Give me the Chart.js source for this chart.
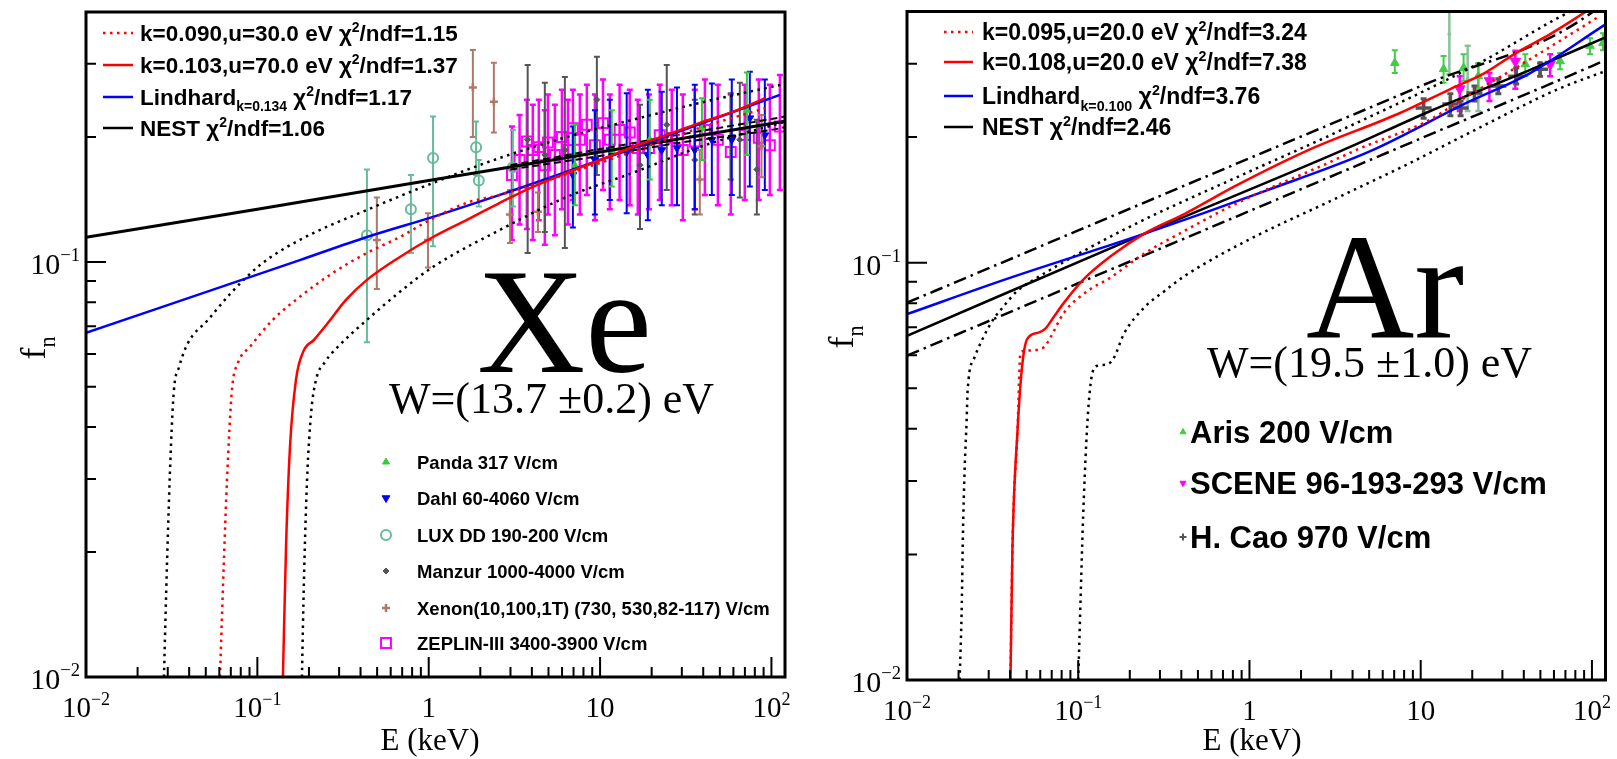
<!DOCTYPE html>
<html>
<head>
<meta charset="utf-8">
<script src="https://cdn.jsdelivr.net/npm/chart.js@4.4.1/dist/chart.umd.min.js"></script>
<style>
html, body { margin: 0; padding: 0; background: #fff; overflow: hidden; }
#wrap { position: relative; width: 1617px; height: 759px; }
canvas { position: absolute; top: 0; }
</style>
</head>
<body>
<div id="wrap">
  <canvas id="xe" width="800" height="759" style="left:0"></canvas>
  <canvas id="ar" width="817" height="759" style="left:800px"></canvas>
</div>
<script>
// ---------- axes ----------
const xTickVals = [0.01, 0.1, 1, 10, 100];
const xTickText = [['10', '−2'], ['10', '−1'], ['1', ''], ['10', ''], ['10', '2']];
const yTickVals = [0.01, 0.1];
const yTickText = [['10', '−2'], ['10', '−1']];

// ---------- Xe panel: model curves (E keV, f_n) ----------
const xeE_k090 = [0.0605, 0.0638, 0.0665, 0.0711, 0.0771, 0.0905, 0.123, 0.177, 0.276, 0.436, 0.679, 1.02, 1.67, 2.60, 10.0, 38.2, 98.0];
const xeF_k090 = [0.0100, 0.0191, 0.0298, 0.0492, 0.0571, 0.0624, 0.0725, 0.0824, 0.0941, 0.1051, 0.1148, 0.1263, 0.1388, 0.1450, 0.1732, 0.2104, 0.2363];
const xeE_k103 = [0.141, 0.147, 0.155, 0.168, 0.185, 0.214, 0.258, 0.329, 0.436, 0.679, 1.06, 1.67, 2.60, 4.05, 6.40, 10.0, 15.5, 24.5, 38.2, 59.5, 92.0];
const xeF_k103 = [0.0100, 0.0206, 0.0358, 0.0520, 0.0607, 0.0649, 0.0713, 0.0810, 0.0905, 0.1028, 0.1148, 0.1263, 0.1388, 0.1516, 0.1639, 0.1760, 0.1892, 0.2023, 0.2163, 0.2298, 0.2480];
const xeE_lind = [0.010, 0.177, 0.436, 1.06, 2.60, 10.0, 112];
const xeF_lind = [0.0675, 0.101, 0.1148, 0.1284, 0.145, 0.176, 0.2525];
const xeE_nest = [0.010, 0.10, 1.0, 10, 100, 120];
const xeF_nest = [0.1146, 0.134, 0.157, 0.184, 0.2154, 0.2184];
const xeE_nestBand = [3.0, 10, 30, 100, 120];
const xeF_nestHi = [0.171, 0.187, 0.203, 0.221, 0.224];
const xeF_nestLo = [0.167, 0.180, 0.194, 0.208, 0.211];
const xeE_dotL = [0.0285, 0.0297, 0.0313, 0.0326, 0.0349, 0.0394, 0.0515, 0.0702, 0.104, 0.177, 0.436, 1.06, 2.60, 6.40, 15.5, 38.2, 94.0, 120];
const xeF_dotL = [0.0100, 0.0188, 0.0358, 0.0492, 0.0558, 0.0638, 0.0725, 0.0842, 0.0984, 0.1130, 0.1334, 0.1550, 0.1780, 0.2000, 0.2200, 0.2416, 0.2626, 0.2685];
const xeE_dotR = [0.182, 0.187, 0.195, 0.206, 0.220, 0.248, 0.303, 0.436, 0.679, 1.06, 2.60, 6.40, 15.5, 38.2, 94.0, 120];
const xeF_dotR = [0.0100, 0.0171, 0.0298, 0.0433, 0.0520, 0.0574, 0.0631, 0.0725, 0.0847, 0.0973, 0.1194, 0.1434, 0.1639, 0.1892, 0.2115, 0.2175];

// ---------- Xe panel: measurements ----------
const pandaE = [7.13, 11.7, 19.5, 39.3, 71.9];
const pandaF = [0.171, 0.186, 0.197, 0.210, 0.232];
const pandaHi = [0.214, 0.232, 0.246, 0.248, 0.286];
const pandaLo = [0.137, 0.152, 0.158, 0.176, 0.181];

const dahlE = [6.94, 9.33, 11.4, 14.3, 19.0, 22.9, 28.1, 35.7, 44.9, 58.7, 74.8, 91.5];
const dahlF = [0.162, 0.176, 0.186, 0.184, 0.181, 0.186, 0.188, 0.186, 0.197, 0.197, 0.222, 0.202];
const dahlHi = [0.212, 0.232, 0.246, 0.255, 0.260, 0.257, 0.263, 0.267, 0.269, 0.275, 0.287, 0.275];
const dahlLo = [0.121, 0.130, 0.141, 0.131, 0.126, 0.137, 0.137, 0.134, 0.145, 0.145, 0.152, 0.149];

const luxE = [0.436, 0.787, 1.06, 1.89, 1.96, 3.10];
const luxF = [0.116, 0.134, 0.178, 0.189, 0.157, 0.169];
const luxHi = [0.167, 0.162, 0.224, 0.218, 0.176, 0.208];
const luxLo = [0.064, 0.105, 0.109, 0.162, 0.136, 0.136];

const manzurE = [3.78, 4.76, 6.23, 9.58, 17.1, 24.5, 35.7, 57.9, 65.4, 82.2];
const manzurF = [0.197, 0.181, 0.186, 0.246, 0.171, 0.214, 0.176, 0.200, 0.197, 0.167];
const manzurHi = [0.298, 0.270, 0.279, 0.312, 0.239, 0.298, 0.246, 0.255, 0.270, 0.220];
const manzurLo = [0.105, 0.118, 0.108, 0.162, 0.120, 0.149, 0.130, 0.158, 0.143, 0.130];

const xenonE = [0.498, 0.99, 1.81, 2.40, 2.98, 4.34, 38.2, 87.5];
const xenonF = [0.113, 0.113, 0.263, 0.243, 0.130, 0.132, 0.158, 0.190];
const xenonHi = [0.143, 0.131, 0.324, 0.302, 0.149, 0.147, 0.186, 0.226];
const xenonLo = [0.086, 0.097, 0.200, 0.205, 0.111, 0.118, 0.130, 0.160];

const zeplinE = [3.06, 3.39, 3.74, 4.05, 4.39, 4.76, 4.96, 5.45, 5.99, 6.49, 6.94, 7.62, 8.37, 9.33, 10.4, 11.4, 13.0, 14.9, 16.6, 19.3, 22.3, 26.2, 30.4, 35.7, 40.9, 48.7, 57.9, 69.9, 84.4, 97.9, 112];
const zeplinF = [0.162, 0.176, 0.195, 0.186, 0.189, 0.171, 0.194, 0.181, 0.200, 0.186, 0.210, 0.197, 0.214, 0.191, 0.216, 0.197, 0.208, 0.205, 0.188, 0.188, 0.202, 0.199, 0.186, 0.195, 0.208, 0.197, 0.184, 0.202, 0.199, 0.191, 0.212];
const zeplinHi = [0.212, 0.226, 0.246, 0.239, 0.246, 0.232, 0.253, 0.239, 0.260, 0.246, 0.260, 0.253, 0.267, 0.253, 0.275, 0.253, 0.267, 0.260, 0.246, 0.253, 0.267, 0.260, 0.253, 0.260, 0.275, 0.267, 0.253, 0.267, 0.275, 0.267, 0.282];
const zeplinLo = [0.113, 0.123, 0.120, 0.113, 0.126, 0.110, 0.130, 0.116, 0.134, 0.123, 0.141, 0.130, 0.145, 0.126, 0.149, 0.134, 0.141, 0.137, 0.130, 0.134, 0.141, 0.137, 0.126, 0.134, 0.145, 0.137, 0.130, 0.141, 0.141, 0.145, 0.149];

// ---------- Ar panel: model curves ----------
const arE_k095 = [0.0402, 0.0413, 0.0442, 0.046, 0.0505, 0.0626, 0.0688, 0.0818, 0.114, 0.151, 0.242, 0.419, 0.829, 2.80, 4.48, 11.0, 18.0, 43.6, 111];
const arF_k095 = [0.0100, 0.0208, 0.0396, 0.0609, 0.0616, 0.0626, 0.0662, 0.0755, 0.0857, 0.0916, 0.1051, 0.1193, 0.1384, 0.1725, 0.1884, 0.2188, 0.2481, 0.3076, 0.3900];
const arE_k108 = [0.0402, 0.0413, 0.0442, 0.0472, 0.0505, 0.0586, 0.0643, 0.0716, 0.0818, 0.107, 0.162, 0.242, 0.419, 0.829, 2.29, 7.35, 14.9, 23.6, 35.2, 57.0, 93.5];
const arF_k108 = [0.0100, 0.0208, 0.0396, 0.0573, 0.0658, 0.0680, 0.0695, 0.0739, 0.0798, 0.0911, 0.1051, 0.1173, 0.1310, 0.1528, 0.1874, 0.2272, 0.2608, 0.2848, 0.3162, 0.3530, 0.4010];
const arE_lind = [0.010, 0.0387, 0.242, 1.24, 5.12, 18.0, 43.6, 111, 118];
const arF_lind = [0.0753, 0.0916, 0.1173, 0.1487, 0.1853, 0.2401, 0.2848, 0.3649, 0.371];
const arE_nest = [0.010, 0.242, 3.43, 11.4, 43.6, 118];
const arF_nest = [0.0668, 0.1173, 0.1853, 0.2310, 0.2900, 0.3460];
const arE_band = [0.01, 0.1, 1, 10, 100, 120];
const arF_bandHi = [0.0802, 0.1195, 0.178, 0.265, 0.398, 0.43];
const arF_bandLo = [0.0599, 0.0893, 0.133, 0.1985, 0.296, 0.306];
const arE_dotL = [0.0203, 0.0209, 0.0212, 0.0217, 0.0223, 0.0226, 0.0248, 0.0277, 0.0316, 0.0361, 0.0442, 0.054, 0.185, 0.987, 2.80, 21.7, 62.6, 120];
const arF_dotL = [0.0100, 0.0153, 0.0220, 0.0318, 0.0419, 0.0494, 0.0593, 0.0658, 0.0727, 0.0780, 0.0857, 0.0906, 0.1200, 0.1650, 0.2000, 0.3000, 0.3850, 0.4400];
const arE_dotR = [0.100, 0.1013, 0.107, 0.114, 0.122, 0.131, 0.151, 0.162, 0.185, 0.242, 0.321, 0.419, 1.01, 2.80, 7.86, 21.7, 62.6, 120];
const arF_dotR = [0.0100, 0.0120, 0.0251, 0.0435, 0.0551, 0.0567, 0.0573, 0.0593, 0.0676, 0.0780, 0.0857, 0.0930, 0.1140, 0.1390, 0.1700, 0.2100, 0.2600, 0.2880];

// ---------- Ar panel: measurements ----------
const arisE = [7.06, 13.6, 17.8, 21.7, 40.8, 65.2, 97.4, 116];
const arisF = [0.301, 0.291, 0.293, 0.280, 0.299, 0.304, 0.331, 0.336];
const arisHi = [0.323, 0.313, 0.316, 0.301, 0.316, 0.318, 0.345, 0.355];
const arisLo = [0.285, 0.270, 0.273, 0.261, 0.280, 0.291, 0.316, 0.323];
const arisBE = [14.7, 18.8, 21.7];
const arisBF = [0.353, 0.276, 0.264];
const arisBHi = [0.42, 0.331, 0.299];
const arisBLo = [0.283, 0.231, 0.231];
const sceneE = [16.9, 25.2, 35.7, 57.0];
const sceneF = [0.261, 0.273, 0.304, 0.299];
const sceneHi = [0.280, 0.285, 0.322, 0.316];
const sceneLo = [0.231, 0.244, 0.261, 0.280];
const caoE = [10.4, 14.9, 17.1, 20.6, 28.4, 36.1, 49.8];
const caoF = [0.235, 0.240, 0.235, 0.255, 0.265, 0.280, 0.291];
const caoHi = [0.247, 0.254, 0.244, 0.265, 0.276, 0.293, 0.301];
const caoLo = [0.222, 0.225, 0.225, 0.244, 0.254, 0.268, 0.280];

// ---------- labels ----------
const xeModelLabels = ['k=0.090,u=30.0 eV', 'k=0.103,u=70.0 eV', 'Lindhard', 'NEST'];
const xeModelChi2 = ['1.15', '1.37', '1.17', '1.06'];
const xeLindSub = 'k=0.134';
const arModelLabels = ['k=0.095,u=20.0 eV', 'k=0.108,u=20.0 eV', 'Lindhard', 'NEST'];
const arModelChi2 = ['3.24', '7.38', '3.76', '2.46'];
const arLindSub = 'k=0.100';
const xeDataLabels = ['Panda 317 V/cm', 'Dahl 60-4060 V/cm', 'LUX DD 190-200 V/cm', 'Manzur 1000-4000 V/cm',
  'Xenon(10,100,1T) (730, 530,82-117) V/cm', 'ZEPLIN-III 3400-3900 V/cm'];
const arDataLabels = ['Aris 200 V/cm', 'SCENE 96-193-293 V/cm', 'H. Cao 970 V/cm'];

const SERIF = '"Liberation Serif", "Times New Roman", serif';
const SANS = '"Liberation Sans", Arial, sans-serif';
const DOT = [2.5, 4.5];

// marker styles
const mPanda = { style: 'triangle', r: 4, color: '#33cc33' };
const mDahl = { style: 'triangle', rot: 180, r: 4.5, color: '#0000ff' };
const mLux = { style: 'circle', r: 5, color: '#66bb99', open: true, lw: 2 };
const mManzur = { style: 'rectRot', r: 3, color: '#555555' };
const mXenon = { style: 'cross', r: 4, color: '#b07868', lw: 2.5 };
const mZeplin = { style: 'rect', r: 7, color: '#ff00ff', open: true, lw: 2, bw: 2.5 };
const mAris = { style: 'triangle', r: 5, color: '#44cc44' };
const mArisB = { style: 'circle', r: 1.5, color: '#88c0a0', bw: 2.5 };
const mScene = { style: 'triangle', rot: 180, r: 6, color: '#ff00ff', bw: 2.5 };
const mCao = { style: 'cross', r: 8, color: '#555555', lw: 3.5, bw: 3 };

function series(xs, ys) { return xs.map((v, i) => ({ x: v, y: ys[i] })); }

function curve(xs, ys, color, dash, width) {
  return {
    data: series(xs, ys), showLine: true, borderColor: color, backgroundColor: color,
    borderWidth: width || 2.5, borderDash: dash || [], pointRadius: 0, pointHoverRadius: 0,
    cubicInterpolationMode: 'monotone'
  };
}

function points(xs, ys, lo, hi, m) {
  return {
    data: series(xs, ys), showLine: false, errLo: lo, errHi: hi,
    pointStyle: m.style, rotation: m.rot || 0, pointRadius: m.r, pointHoverRadius: m.r,
    borderColor: m.color, backgroundColor: m.open ? 'rgba(0,0,0,0)' : m.color,
    borderWidth: m.lw || 1, barWidth: m.bw || 2
  };
}

// vertical error bars, drawn through the chart's own scales
const errorBars = {
  id: 'errorBars',
  beforeDatasetDraw(chart, args) {
    const ds = chart.data.datasets[args.index];
    if (!ds.errLo) return;
    const { ctx, chartArea: a, scales: { x, y } } = chart;
    ctx.save();
    ctx.beginPath();
    ctx.rect(a.left, a.top, a.right - a.left, a.bottom - a.top);
    ctx.clip();
    ctx.strokeStyle = ds.borderColor;
    ctx.lineWidth = ds.barWidth;
    ds.data.forEach((p, i) => {
      const px = x.getPixelForValue(p.x);
      const y1 = y.getPixelForValue(ds.errHi[i]);
      const y2 = y.getPixelForValue(ds.errLo[i]);
      ctx.beginPath();
      ctx.moveTo(px, y1); ctx.lineTo(px, y2);
      ctx.moveTo(px - 3, y1); ctx.lineTo(px + 3, y1);
      ctx.moveTo(px - 3, y2); ctx.lineTo(px + 3, y2);
      ctx.stroke();
    });
    ctx.restore();
  }
};

function richWidth(ctx, parts, size, weight, family) {
  let w = 0;
  for (const [t, kind] of parts) {
    ctx.font = `${weight} ${kind ? size * 0.62 : size}px ${family}`;
    w += ctx.measureText(t).width;
  }
  return w;
}

function drawRich(ctx, x, base, parts, size, weight, family) {
  for (const [t, kind] of parts) {
    ctx.font = `${weight} ${kind ? size * 0.62 : size}px ${family}`;
    const dy = kind === 'sup' ? -size * 0.42 : kind === 'sub' ? size * 0.28 : 0;
    ctx.fillText(t, x, base + dy);
    x += ctx.measureText(t).width;
  }
  return x;
}

function drawMarker(ctx, m, x, y) {
  ctx.save();
  ctx.fillStyle = m.open ? 'rgba(0,0,0,0)' : m.color;
  ctx.strokeStyle = m.color;
  ctx.lineWidth = m.lw || 1;
  Chart.helpers.drawPoint(ctx, { pointStyle: m.style, rotation: m.rot || 0, radius: m.r, borderWidth: m.lw || 1 }, x, y);
  ctx.restore();
}

function modelParts(labels, chi2, sub, i) {
  const parts = [[labels[i]]];
  if (i === 2) parts.push([sub, 'sub']);
  parts.push([' χ'], ['2', 'sup'], ['/ndf=' + chi2[i]]);
  return parts;
}

// frame, ticks, tick labels, titles, legends in ROOT style
function rootFrame(cfg) {
  return {
    id: 'rootFrame',
    afterDraw(chart) {
      const { ctx, chartArea: a, scales: { x, y } } = chart;
      ctx.save();
      ctx.strokeStyle = '#000';
      ctx.fillStyle = '#000';
      ctx.lineWidth = 2;
      ctx.beginPath();
      for (let d = -2; d <= 2; d++) {
        for (let m = 1; m <= 9; m++) {
          const v = m * Math.pow(10, d);
          if (v < x.min || v > x.max) continue;
          const px = x.getPixelForValue(v);
          ctx.moveTo(px, a.bottom); ctx.lineTo(px, a.bottom - (m === 1 ? 20 : 10));
        }
      }
      for (let d = -2; d <= -1; d++) {
        for (let m = 1; m <= 9; m++) {
          const v = m * Math.pow(10, d);
          if (v < y.min || v >= y.max) continue;
          const py = y.getPixelForValue(v);
          ctx.moveTo(a.left, py); ctx.lineTo(a.left + (m === 1 ? 20 : 10), py);
        }
      }
      ctx.stroke();
      ctx.lineWidth = 3;
      ctx.strokeRect(a.left, a.top, a.right - a.left, a.bottom - a.top);

      // tick labels
      xTickVals.forEach((v, i) => {
        const parts = [[xTickText[i][0]]];
        if (xTickText[i][1]) parts.push([xTickText[i][1], 'sup']);
        const w = richWidth(ctx, parts, 29, 'normal', SERIF);
        drawRich(ctx, x.getPixelForValue(v) - w / 2, a.bottom + 40, parts, 29, 'normal', SERIF);
      });
      yTickVals.forEach((v, i) => {
        const parts = [[yTickText[i][0]], [yTickText[i][1], 'sup']];
        const w = richWidth(ctx, parts, 30, 'normal', SERIF);
        drawRich(ctx, a.left - 6 - w, y.getPixelForValue(v) + 12, parts, 30, 'normal', SERIF);
      });

      // axis titles
      ctx.font = `31px ${SERIF}`;
      ctx.textAlign = 'center';
      ctx.fillText('E (keV)', cfg.titleX, 750);
      ctx.textAlign = 'left';
      ctx.save();
      ctx.translate(cfg.fn[0], cfg.fn[1]);
      ctx.rotate(-Math.PI / 2);
      const fparts = [['f'], ['n', 'sub']];
      const fw = richWidth(ctx, fparts, 36, 'normal', SERIF);
      drawRich(ctx, -fw / 2, 10, fparts, 36, 'normal', SERIF);
      ctx.restore();

      // big element symbol and W value
      ctx.font = `${cfg.bigSize}px ${SERIF}`;
      ctx.fillText(cfg.big, cfg.bigPos[0], cfg.bigPos[1]);
      ctx.font = `44px ${SERIF}`;
      ctx.fillText(cfg.wText, cfg.wPos[0], cfg.wPos[1]);

      // model legend
      const L = cfg.legend;
      L.rows.forEach((yc, i) => {
        ctx.save();
        ctx.strokeStyle = L.colors[i];
        ctx.lineWidth = 2.5;
        ctx.setLineDash(L.dashes[i]);
        ctx.beginPath();
        ctx.moveTo(L.sx[0], yc); ctx.lineTo(L.sx[1], yc);
        ctx.stroke();
        ctx.restore();
        drawRich(ctx, L.tx, yc + L.size * 0.36, modelParts(L.labels, L.chi2, L.sub, i), L.size, 'bold', SANS);
      });

      // data legend
      const M = cfg.marks;
      M.rows.forEach((yc, i) => {
        drawMarker(ctx, M.markers[i], M.mx, yc);
        ctx.fillStyle = '#000';
        ctx.font = `bold ${M.size}px ${SANS}`;
        ctx.fillText(M.labels[i], M.tx, yc + M.size * 0.36);
      });
      ctx.restore();
    }
  };
}

function panelOptions(pad) {
  return {
    responsive: false, animation: false, events: [],
    layout: { padding: pad },
    plugins: { legend: { display: false }, tooltip: { enabled: false } },
    scales: {
      x: { type: 'logarithmic', min: 0.01, max: 120, display: false },
      y: { type: 'logarithmic', min: 0.01, max: 0.4, display: false }
    }
  };
}

new Chart(document.getElementById('xe'), {
  type: 'scatter',
  data: {
    datasets: [
      curve(xeE_k103, xeF_k103, '#ff0000'),
      curve(xeE_k090, xeF_k090, '#ff0000', DOT),
      curve(xeE_lind, xeF_lind, '#0000ff'),
      curve(xeE_nest, xeF_nest, '#000000', [], 3),
      curve(xeE_nestBand, xeF_nestHi, '#000000', [7, 4], 2),
      curve(xeE_nestBand, xeF_nestLo, '#000000', [7, 4], 2),
      curve(xeE_dotL, xeF_dotL, '#000000', DOT),
      curve(xeE_dotR, xeF_dotR, '#000000', DOT),
      points(pandaE, pandaF, pandaLo, pandaHi, mPanda),
      points(luxE, luxF, luxLo, luxHi, mLux),
      points(xenonE, xenonF, xenonLo, xenonHi, mXenon),
      points(dahlE, dahlF, dahlLo, dahlHi, mDahl),
      points(manzurE, manzurF, manzurLo, manzurHi, mManzur),
      points(zeplinE, zeplinF, zeplinLo, zeplinHi, mZeplin)
    ]
  },
  options: panelOptions({ left: 86, right: 15, top: 12, bottom: 82 }),
  plugins: [errorBars, rootFrame({
    titleX: 430, fn: [35, 348],
    big: 'Xe', bigSize: 150, bigPos: [477, 372],
    wText: 'W=(13.7 ±0.2) eV', wPos: [389, 413],
    legend: {
      rows: [33, 65, 97, 128], sx: [103, 133], tx: 140, size: 22.5,
      colors: ['#ff0000', '#ff0000', '#0000ff', '#000000'], dashes: [DOT, [], [], []],
      labels: xeModelLabels, chi2: xeModelChi2, sub: xeLindSub
    },
    marks: {
      rows: [462, 498, 535, 571, 608, 643], mx: 386, tx: 417, size: 18.5,
      markers: [mPanda, mDahl, mLux, mManzur, mXenon, mZeplin], labels: xeDataLabels
    }
  })]
});

new Chart(document.getElementById('ar'), {
  type: 'scatter',
  data: {
    datasets: [
      curve(arE_k108, arF_k108, '#ff0000'),
      curve(arE_k095, arF_k095, '#ff0000', DOT),
      curve(arE_lind, arF_lind, '#0000ff'),
      curve(arE_nest, arF_nest, '#000000'),
      curve(arE_band, arF_bandHi, '#000000', [13, 5, 2.5, 5]),
      curve(arE_band, arF_bandLo, '#000000', [13, 5, 2.5, 5]),
      curve(arE_dotL, arF_dotL, '#000000', DOT),
      curve(arE_dotR, arF_dotR, '#000000', DOT),
      points(caoE, caoF, caoLo, caoHi, mCao),
      points(sceneE, sceneF, sceneLo, sceneHi, mScene),
      points(arisE, arisF, arisLo, arisHi, mAris),
      points(arisBE, arisBF, arisBLo, arisBHi, mArisB)
    ]
  },
  options: panelOptions({ left: 107, right: 9, top: 10, bottom: 79 }),
  plugins: [errorBars, rootFrame({
    titleX: 452, fn: [43, 337],
    big: 'Ar', bigSize: 150, bigPos: [506, 337],
    wText: 'W=(19.5 ±1.0) eV', wPos: [407, 377],
    legend: {
      rows: [32, 62, 96, 127], sx: [144, 173], tx: 182, size: 23,
      colors: ['#ff0000', '#ff0000', '#0000ff', '#000000'], dashes: [DOT, [], [], []],
      labels: arModelLabels, chi2: arModelChi2, sub: arLindSub
    },
    marks: {
      rows: [432, 483, 537], mx: 383, tx: 390, size: 31,
      markers: [{ style: 'triangle', r: 3.5, color: '#44cc44' }, { style: 'triangle', rot: 180, r: 3.5, color: '#ff00ff' },
        { style: 'cross', r: 3.5, color: '#555555', lw: 2 }],
      labels: arDataLabels
    }
  })]
});
</script>
</body>
</html>
